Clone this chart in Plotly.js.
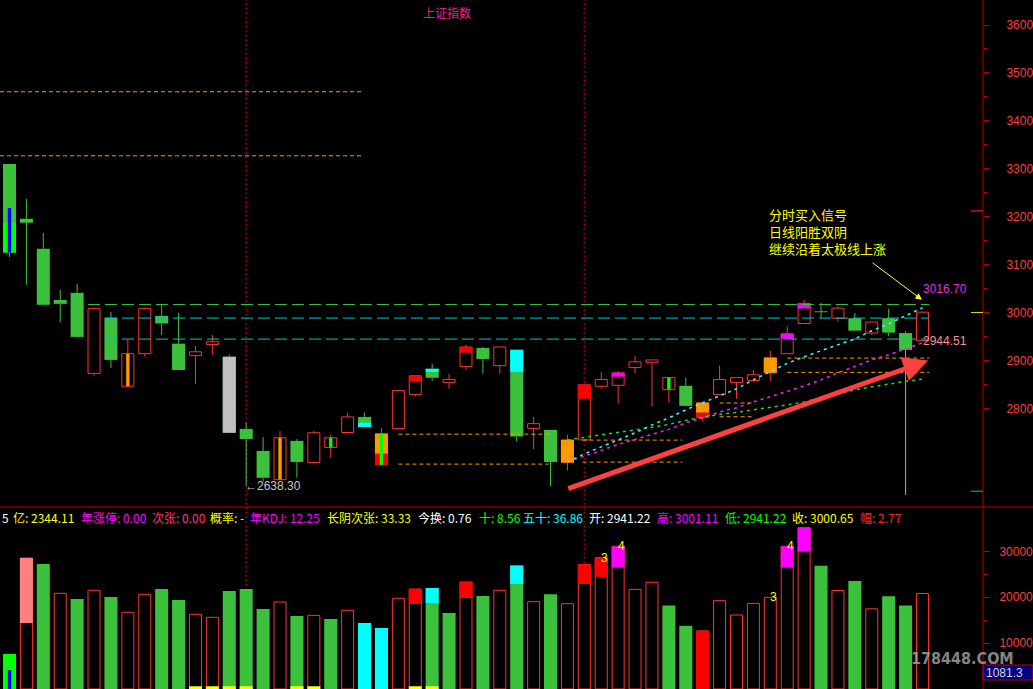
<!DOCTYPE html>
<html><head><meta charset="utf-8">
<script src="https://cdn.plot.ly/plotly-3.0.1.min.js"></script>
<style>html,body{margin:0;padding:0;background:#000;overflow:hidden}#chart{width:1033px;height:689px}</style>
</head><body><div id="chart"></div>
<script>
// ---------------- data ----------------
const open_  = [3310,3195.6,3133,3026,3041,2873,2989,2846,2914,2993,2935,2910,2933,2907.5,2757,2711,2651,2732,2687,2718,2749.5,2782,2682,2758,2829,2882.5,2854,2887,2926,2889,2922,2758,2755,2687,2734,2846,2848,2885,2896,2839,2847,2781,2829,2854,2858,2874,2914,2977,3001,2988,2988,2957,2988,2957,2941.22];
const high   = [3310,3237,3166,3047,3060,3010,3001,2943,3010,3018,2999,2930,2953,2912,2770,2740,2753,2736,2753,2745,2791,2791,2759,2839,2868,2893,2872,2932.5,2928,2928,2922,2782,2755,2745,2849,2876,2878,2910,2901,2864,2864,2811.5,2889,2864,2880,2920,2971,3026.5,3020,3012,2999,2980,3008,2961,3001.11];
const low    = [3116,3058,3016,2979,2949,2868,2884,2846,2908,2953,2880,2851,2912,2749,2638.3,2647,2651,2655,2687,2697,2749.5,2761,2682,2758,2825,2857.5,2841,2880,2872,2872,2730,2715,2638,2670,2734,2841,2810,2873,2804,2812,2805,2772.5,2829,2820,2858,2857.5,2914,2977,2989,2981,2962,2953,2950,2922,2941.22];
const close_ = [3125,3187.3,3016,3018,2949,3008,2901,2914,3008,2977,2880,2918,2939,2749,2736,2655,2738.5,2688,2749,2738.5,2782,2761,2747,2837,2868,2863.7,2860,2928,2903,2928,2741,2768,2688,2734,2849,2860,2874,2897,2901,2864,2805,2811.5,2860,2864,2870,2905.5,2955.5,3019,3000.5,3009,2962,2980,2958,2922,3000.65];

// long tail of the second-last day
const tailIdx = [53], tailLow = [2619];

// indicator overlays on candle bodies (index, top, bottom)
const ovGrayIdx = [13], ovGrayHi = [2907.5], ovGrayLo = [2749];
const ovLimeIdx = [0], ovLimeHi = [3187], ovLimeLo = [3125];
const ovOrangeIdx = [22,33,41,45], ovOrangeHi = [2747,2734,2811.5,2905.5], ovOrangeLo = [2705,2687,2790.7,2874];
const ovRedIdx = [22,24,27,34,41], ovRedHi = [2705,2868,2928,2849,2790.7], ovRedLo = [2682,2855.5,2916,2820,2781];
const ovCyanIdx = [21,25,30], ovCyanHi = [2770,2882.5,2922], ovCyanLo = [2761,2876,2876];
const ovMagIdx = [36,46,47], ovMagHi = [2874,2955.5,3019], ovMagLo = [2866,2945,3008.5];
const ovNOrangeIdx = [7,16], ovNOrangeHi = [2914,2738.5], ovNOrangeLo = [2846,2651];
const ovNLimeIdx = [19,22,39], ovNLimeHi = [2738.5,2747,2864], ovNLimeLo = [2718,2682,2839];
const ovNBlueIdx = [0], ovNBlueHi = [3218], ovNBlueLo = [3125];

// horizontal levels
const levelY = [3016.7, 2988.3, 2944.5], levelFrom = [4.64, 5.65, 5.65], levelTo = [54.4, 54.4, 54.4];
const gapTop = [3460.7, 2746, 2733.6, 2811, 2904.8];
const gapBot = [3327, 2683.5, 2687.7, 2782.3, 2875];
const gapFrom = [-0.56, 23, 33.9, 42, 46];
const gapTo = [20.9, 31.9, 39.8, 43.9, 54.4];

// dotted averages
const maX = [33,34,35,36,37,38,39,40,41,42,43,44,45,46,47,48,49,50,51,52,53,54];
const maCyan  = [2688.2,2704.9,2719.5,2734.1,2748.8,2765.5,2780.1,2796.8,2811.4,2826.1,2840.7,2859.5,2876,2893.8,2907.5,2920,2932.5,2945.1,2961.8,2976.4,2993.1,3009.8];
const maMag   = [2688.2,2699.7,2712.2,2724.7,2735.2,2745.6,2756.0,2769.6,2780.1,2792.6,2801.0,2813.4,2823.9,2835.3,2846.8,2859.3,2873.9,2887.5,2901.1,2911.5,2924.0,2936.6];
const maGreen = [2734.1,2739.3,2744.6,2748.8,2754.0,2760.2,2766.5,2774.8,2781.1,2787.3,2791.5,2796.8,2800.9,2807.2,2813.4,2821.8,2830.2,2838.5,2844.8,2851.0,2856.2,2860.8];

// marked days (red dotted verticals)
const markIdx = [14, 34];

// arrows: [fromIdx, fromPrice, toIdx, toPrice]
const bigArrow = [32.96, 2631.2, 54.34, 2899.6];
const smallArrow = [50.96, 3106, 53.97, 3026.5];

// volume
const vol = [7625,28540,27233,20850,19608,21500,20044,16710,20630,21786,19390,16275,15620,21350,21786,17429,18954,15904,16050,15250,17146,14379,13290,19760,21786,22000,16558,23311,20261,21500,26900,19020,20650,18584,27100,28650,31090,21700,23250,18210,13770,12660,19240,16120,18650,19980,31090,35142,26860,21460,23530,17470,20220,18210,20800];
const volUp = [0,1,0,1,0,1,0,1,1,0,0,1,1,0,0,0,1,0,1,0,1,0,0,1,1,0,0,1,0,1,0,1,0,1,1,1,1,1,1,0,0,1,1,1,1,1,1,1,0,1,0,1,0,0,1];
const vPinkIdx = [1], vPinkFrom = [14379];
const vRedIdx = [24,27,34,35,41], vRedFrom = [18519,19826,22876,24420,0];
const vCyanIdx = [21,22,25,30], vCyanFrom = [0,0,18736,22900];
const vMagIdx = [36,46,47], vMagFrom = [26430,26430,29913];
const vLimeIdx = [0];
const vBlueIdx = [0], vBlueTop = [4140];
const vYellowIdx = [11,12,13,14,17,18,24,25], vYellowH = 600;
const volLabIdx = [35,36,45,46], volLabTxt = ['3','4','3','4'];

// texts
const priceTicks = [2800,2900,3000,3100,3200,3300,3400,3500,3600];
const priceMinor = [2850,2950,3050,3150,3250,3350,3450,3550];
const volTicks = [10000,20000,30000], volMinor = [15000,25000];
const infoLabels = ['5','亿','年涨停','次张','概率','年KDJ','长阴次张','今换','十','五十','开','高','低','收','幅'];
const infoValues = ['', '2344.11','0.00','0.00','-','12.25','33.33','0.76','8.56','36.86','2941.22','3001.11','2941.22','3000.65','2.77'];
const noteLines = ['分时买入信号','日线阳胜双阴','继续沿着太极线上涨'];
const lowLabel = 2638.30, hiLevel = 3016.70, loLevel = 2944.51;
const markers = [3212, 3000, 2627];
const curVol = '1081.3';

// ---------------- drawing ----------------
const GREEN = '#3cc13c', RED = '#ff3232';
const W = 0.77, WH = 0.71, WN = 0.2;
const PX = x => x / 983, PY = y => 1 - y / 689;
const idx = open_.map((_, i) => i);
const traces = [];

function barTrace(ids, lo, hi, color, width, ax, hollow) {
  traces.push({type: 'bar', x: ids, base: lo, y: hi.map((h, k) => Math.max(h - lo[k], 2)),
    width: width, xaxis: ax[0], yaxis: ax[1], hoverinfo: 'skip',
    marker: {color: hollow ? '#000' : color, line: {width: hollow ? 1 : 0, color: color}}});
}
const UP = ['x', 'y'], DN = ['x2', 'y2'];

// candle bodies
const dn = idx.filter(i => close_[i] < open_[i]);
const up = idx.filter(i => close_[i] >= open_[i]);
barTrace(dn, dn.map(i => Math.min(open_[i], close_[i])), dn.map(i => Math.max(open_[i], close_[i])), GREEN, W, UP, false);
barTrace(up, up.map(i => Math.min(open_[i], close_[i])), up.map(i => Math.max(open_[i], close_[i])), RED, WH, UP, true);
barTrace(ovGrayIdx, ovGrayLo, ovGrayHi, '#c0c0c0', W, UP, false);
barTrace(ovLimeIdx, ovLimeLo, ovLimeHi, '#00ff00', W, UP, false);
barTrace(ovOrangeIdx, ovOrangeLo, ovOrangeHi, '#ff9900', W, UP, false);
barTrace(ovRedIdx, ovRedLo, ovRedHi, '#ff0000', W, UP, false);
barTrace(ovCyanIdx, ovCyanLo, ovCyanHi, '#00ffff', W, UP, false);
barTrace(ovMagIdx, ovMagLo, ovMagHi, '#ff00ff', W, UP, false);
barTrace(ovNOrangeIdx, ovNOrangeLo, ovNOrangeHi, '#ff9900', WN, UP, false);
barTrace(ovNLimeIdx, ovNLimeLo, ovNLimeHi, '#00ff00', WN, UP, false);
barTrace(ovNBlueIdx, ovNBlueLo, ovNBlueHi, '#0000ff', WN, UP, false);

// wicks
function wicks(ids, color) {
  const xs = [], ys = [];
  ids.forEach(i => {
    const t = Math.max(open_[i], close_[i]), b = Math.min(open_[i], close_[i]);
    if (high[i] > t) { xs.push(i, i, null); ys.push(high[i], t, null); }
    if (low[i] < b) { xs.push(i, i, null); ys.push(b, low[i], null); }
  });
  traces.push({type: 'scatter', mode: 'lines', x: xs, y: ys, line: {color, width: 1}, hoverinfo: 'skip', xaxis: 'x', yaxis: 'y'});
}
wicks(dn, GREEN); wicks(up, RED);
{
  const xs = [], ys = [];
  tailIdx.forEach((i, k) => { xs.push(i, i, null); ys.push(low[i], tailLow[k], null); });
  traces.push({type: 'scatter', mode: 'lines', x: xs, y: ys, line: {color: '#ff9900', width: 1}, hoverinfo: 'skip'});
}

// level lines
function segs(y, from, to, color, dash) {
  const xs = [], ys = [];
  y.forEach((v, k) => { xs.push(from[k], to[k], null); ys.push(v, v, null); });
  traces.push({type: 'scatter', mode: 'lines', x: xs, y: ys, line: {color, width: 1, dash}, hoverinfo: 'skip'});
}
segs(gapTop, gapFrom, gapTo, '#ff9900', '4px,3px');
segs(gapBot, gapFrom, gapTo, '#ff9900', '4px,3px');
segs([levelY[0]], [levelFrom[0]], [levelTo[0]], '#3cc13c', '12px,5px');
segs(levelY.slice(1), levelFrom.slice(1), levelTo.slice(1), '#00c8c8', '12px,5px');

// dotted averages
[[maGreen, '#22dd22'], [maMag, '#ff22ff'], [maCyan, '#33ffff']].forEach(([arr, c]) => {
  traces.push({type: 'scatter', mode: 'lines', x: maX, y: arr, line: {color: c, width: 1.5, dash: '3px,4px'}, hoverinfo: 'skip'});
});

// volume bars
const vG = idx.filter(i => !volUp[i]), vR = idx.filter(i => volUp[i]);
barTrace(vG, vG.map(() => 0), vG.map(i => vol[i]), GREEN, W, DN, false);
barTrace(vR, vR.map(() => 0), vR.map(i => vol[i]), RED, WH, DN, true);
barTrace(vPinkIdx, vPinkFrom, vPinkIdx.map(i => vol[i]), '#ff8080', W, DN, false);
barTrace(vRedIdx, vRedFrom, vRedIdx.map(i => vol[i]), '#ff0000', W, DN, false);
barTrace(vCyanIdx, vCyanFrom, vCyanIdx.map(i => vol[i]), '#00ffff', W, DN, false);
barTrace(vMagIdx, vMagFrom, vMagIdx.map(i => vol[i]), '#ff00ff', W, DN, false);
barTrace(vLimeIdx, vLimeIdx.map(() => 0), vLimeIdx.map(i => vol[i]), '#00ff00', W, DN, false);
barTrace(vBlueIdx, vBlueIdx.map(() => 0), vBlueTop, '#0000ff', WN, DN, false);
barTrace(vYellowIdx, vYellowIdx.map(() => 0), vYellowIdx.map(() => vYellowH), '#ffff00', W, DN, false);

// annotations
const annotations = [];
function txt(x, y, text, font, anchor, extra) {
  annotations.push(Object.assign({xref: 'paper', yref: 'paper', x: PX(x), y: PY(y), text, showarrow: false,
    xanchor: anchor || 'left', yanchor: 'middle', borderpad: 0, font}, extra || {}));
}
const CJK = 'Noto Sans CJK SC';
txt(446.7, 12, '上证指数', {color: '#ff1a8c', size: 12, family: CJK}, 'center');
txt(768, 231, noteLines.join('<br>'), {color: '#ffff00', size: 13, family: CJK}, 'left', {align: 'left'});

const infoX = [1, 12, 80, 151, 209, 249, 326, 417, 478, 522, 587.6, 655.6, 724, 791.4, 859.4];
const infoC = ['#ffffff', '#ffff00', '#ff00ff', '#ff3377', '#ffff00', '#ff00ff', '#ffff00', '#ffffff', '#00ff00', '#00ffff', '#ffffff', '#ff00ff', '#00ff00', '#ffff00', '#ff2020'];
infoLabels.forEach((l, k) => txt(infoX[k], 517, infoValues[k] ? l + ': ' + infoValues[k] : l, {color: infoC[k], size: 12, family: CJK}, 'left'));

annotations.push({xref: 'x', yref: 'y', x: markIdx[0], y: lowLabel, text: '←' + lowLabel.toFixed(2), showarrow: false,
  xanchor: 'left', yanchor: 'middle', xshift: -2, borderpad: 0, font: {color: '#c8c8c8', size: 12, family: 'Liberation Sans, DejaVu Sans'}});
annotations.push({xref: 'x', yref: 'y', x: 54, y: hiLevel, text: hiLevel.toFixed(2), showarrow: false,
  xanchor: 'left', yanchor: 'middle', yshift: 15, borderpad: 0, font: {color: '#e030e0', size: 12, family: 'Liberation Sans'}});
annotations.push({xref: 'x', yref: 'y', x: 54, y: loLevel, text: loLevel.toFixed(2), showarrow: false,
  xanchor: 'left', yanchor: 'middle', yshift: -2, borderpad: 0, font: {color: '#ff9090', size: 12, family: 'Liberation Sans'}});

annotations.push({xref: 'x', yref: 'y', axref: 'x', ayref: 'y', x: bigArrow[2], y: bigArrow[3], ax: bigArrow[0], ay: bigArrow[1],
  text: '', showarrow: true, arrowhead: 2, arrowsize: 1, arrowwidth: 5, arrowcolor: '#ff4040', standoff: 0});
annotations.push({xref: 'x', yref: 'y', axref: 'x', ayref: 'y', x: smallArrow[2], y: smallArrow[3], ax: smallArrow[0], ay: smallArrow[1],
  text: '', showarrow: true, arrowhead: 2, arrowsize: 1.3, arrowwidth: 1, arrowcolor: '#ffff33', standoff: 0});

volLabIdx.forEach((i, k) => annotations.push({xref: 'x2', yref: 'y2', x: i + 0.2, y: vol[i], text: volLabTxt[k], showarrow: false,
  xanchor: 'center', yanchor: 'middle', borderpad: 0, font: {color: '#ffff00', size: 12, family: 'Liberation Sans'}}));

txt(962, 658, '178448.COM', {color: 'rgba(170,170,170,0.8)', size: 16, family: 'DejaVu Sans Condensed, Liberation Sans Narrow, sans-serif', weight: 'bold'}, 'center');
txt(985, 673, curVol, {color: '#d8d8d8', size: 12, family: 'Liberation Sans'}, 'left');

// shapes
const shapes = [];
markIdx.forEach(i => shapes.push({type: 'line', xref: 'x', yref: 'paper', x0: i, x1: i, y0: 0, y1: 1, layer: 'below',
  line: {color: '#c00000', width: 1.5, dash: '1.5px,3px'}}));
shapes.push({type: 'line', xref: 'paper', yref: 'paper', x0: 0, x1: 1033 / 983, y0: PY(507), y1: PY(507), line: {color: '#c00000', width: 1}});
shapes.push({type: 'line', xref: 'paper', yref: 'paper', x0: 1, x1: 1, y0: 0, y1: 1, line: {color: '#b00000', width: 1}});
const mkC = ['#ff3030', '#e0e000', '#00e000'];
markers.forEach((m, k) => shapes.push({type: 'line', xref: 'paper', yref: 'y', x0: PX(971), x1: 1, y0: m, y1: m, line: {color: mkC[k], width: 1}}));
shapes.push({type: 'rect', xref: 'paper', yref: 'paper', x0: 1, x1: 1033 / 983, y0: PY(680), y1: PY(665), fillcolor: '#000080', line: {color: '#c00000', width: 1}, layer: 'below'});

const xr = [-0.562, 57.58];
const layout = {
  width: 1033, height: 689, margin: {l: 0, r: 50, t: 0, b: 0, pad: 0},
  paper_bgcolor: '#000', plot_bgcolor: '#000', showlegend: false, barmode: 'overlay', hovermode: false,
  xaxis: {domain: [0, 1], range: xr, visible: false, anchor: 'y'},
  xaxis2: {domain: [0, 1], range: xr, visible: false, anchor: 'y2'},
  yaxis: {domain: [PY(507), 1], range: [2594, 3652.2], side: 'right', anchor: 'x', showgrid: false, zeroline: false, showline: false,
    tickmode: 'array', tickvals: priceTicks, ticktext: priceTicks.map(String), ticks: 'outside', ticklen: 6, tickcolor: '#c00000', tickwidth: 1,
    ticklabelstandoff: 14, tickfont: {color: '#ff3c3c', size: 12, family: 'Liberation Sans'},
    minor: {tickmode: 'array', tickvals: priceMinor, ticks: 'outside', ticklen: 3, tickcolor: '#c00000', showgrid: false}},
  yaxis2: {domain: [0, PY(524)], range: [0, 35948], side: 'right', anchor: 'x2', showgrid: false, zeroline: false, showline: false,
    tickmode: 'array', tickvals: volTicks, ticktext: volTicks.map(String), ticks: 'outside', ticklen: 6, tickcolor: '#c00000', tickwidth: 1,
    ticklabelstandoff: 7, tickfont: {color: '#ff3c3c', size: 12, family: 'Liberation Sans'},
    minor: {tickmode: 'array', tickvals: volMinor, ticks: 'outside', ticklen: 3, tickcolor: '#c00000', showgrid: false}},
  annotations, shapes
};
Plotly.newPlot('chart', traces, layout, {staticPlot: true, displayModeBar: false});
</script>
</body></html>
